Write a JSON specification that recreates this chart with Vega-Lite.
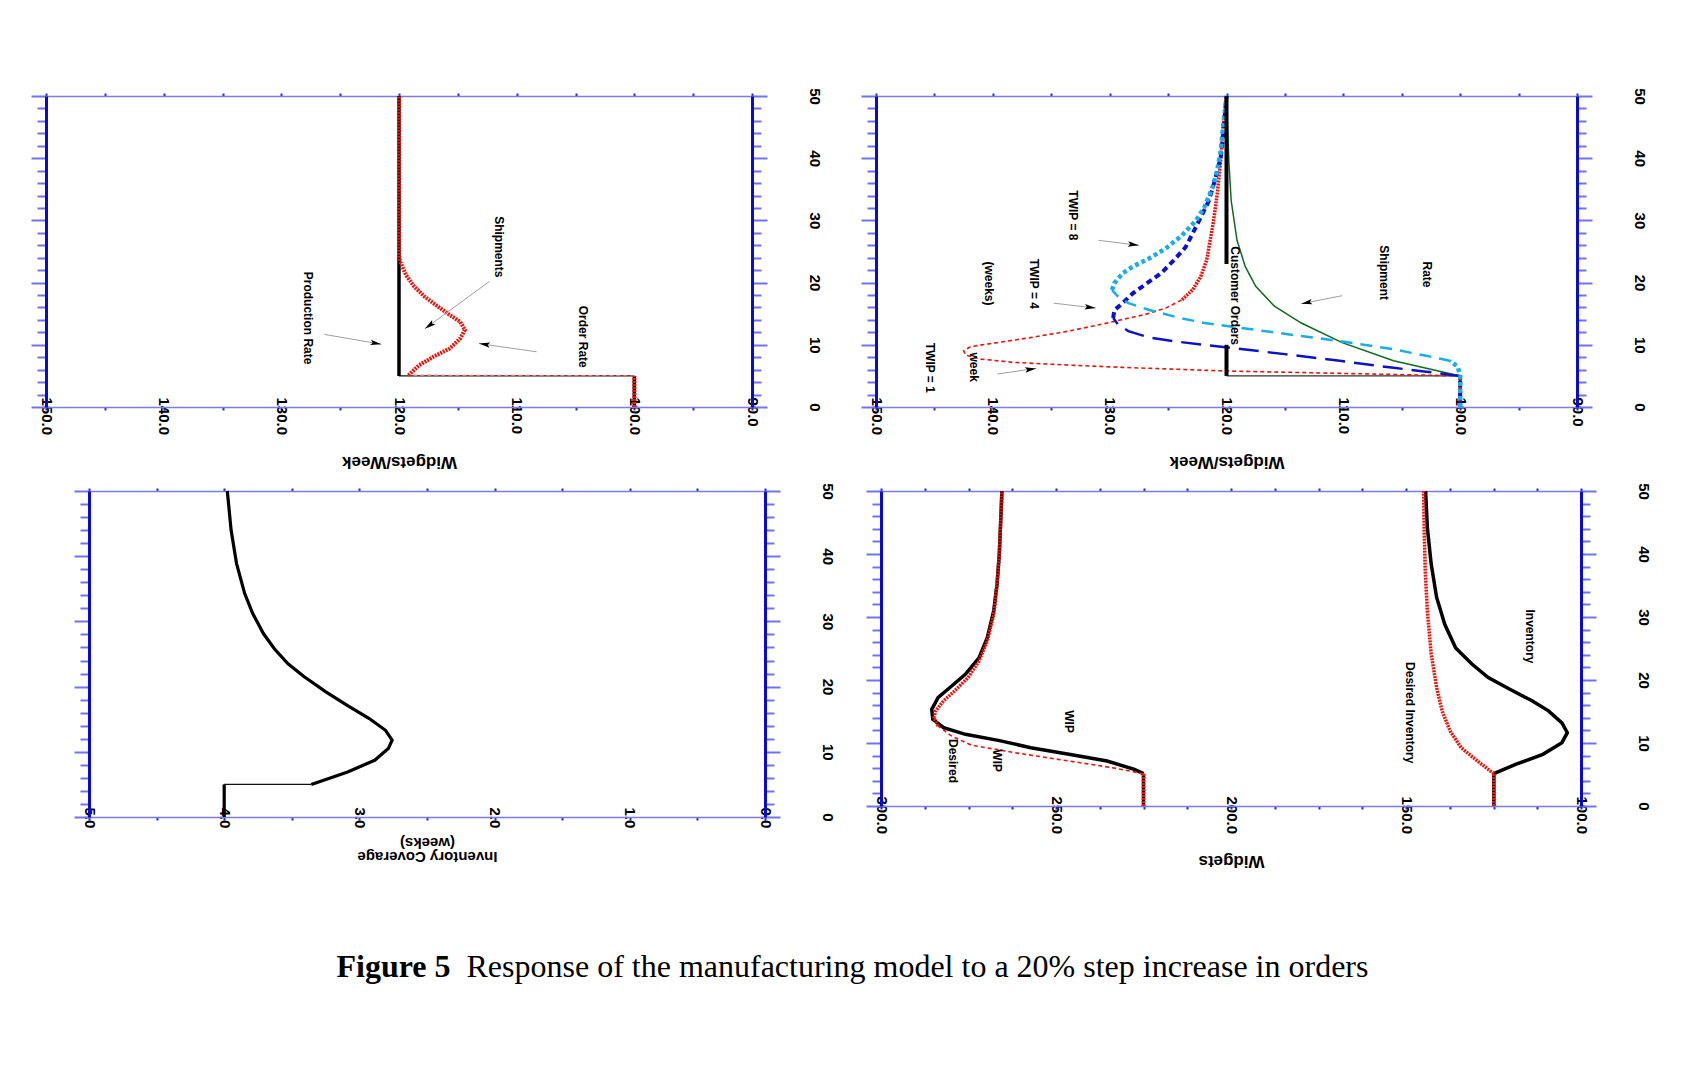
{
  "$schema": "https://vega.github.io/schema/vega-lite/v6.json",
  "background": "white",
  "padding": {"left": 5, "top": 86, "right": 5, "bottom": 5},
  "columns": 1,
  "spacing": 11,
  "config": {
    "view": {"stroke": null},
    "axis": {
      "grid": false, "labelOverlap": false, "labelFlush": false,
      "labelFont": "Liberation Sans", "labelFontWeight": "bold", "labelColor": "#000000",
      "titleFont": "Liberation Sans", "titleFontWeight": "bold", "titleColor": "#000000"
    },
    "axisTop": {"tickSize": 3, "tickWidth": 2, "tickColor": "#2424e0", "domainColor": "#7b7bef", "domainWidth": 1.5, "labels": false, "minExtent": 10, "maxExtent": 10},
    "axisBottom": {"tickSize": 3, "tickWidth": 2, "tickColor": "#2424e0", "domainColor": "#7b7bef", "domainWidth": 1.5,
      "labelAngle": 90, "labelAlign": "left", "labelBaseline": "middle", "labelPadding": -13, "labelFontSize": 15,
      "titleAngle": 180, "titleBaseline": "bottom", "titleFontSize": 17, "titlePadding": 5, "minExtent": 40, "maxExtent": 40},
    "axisLeft": {"tickWidth": 2, "tickColor": "#7272ee", "domainColor": "#0a0ad0", "domainWidth": 3, "labels": false, "minExtent": 15},
    "axisRight": {"tickWidth": 2, "tickColor": "#7272ee", "domainColor": "#0a0ad0", "domainWidth": 3,
      "labelAngle": 90, "labelAlign": "center", "labelBaseline": "middle", "labelPadding": 47, "labelFontSize": 15, "minExtent": 75}
  },
  "concat": [
    {
      "spacing": 33,
      "hconcat": [
        {
          "width": 706, "height": 311,
          "data": {"values": [
            {"s": "orders", "seg": "a", "v": 100, "t": 0}, {"s": "orders", "seg": "a", "v": 100, "t": 5},
            {"s": "orders", "seg": "b", "v": 100, "t": 5}, {"s": "orders", "seg": "b", "v": 120, "t": 5},
            {"s": "orders", "seg": "c", "v": 120, "t": 5}, {"s": "orders", "seg": "c", "v": 120, "t": 50},
            {"s": "prod", "seg": "a", "v": 100, "t": 0}, {"s": "prod", "seg": "a", "v": 100, "t": 5},
            {"s": "prod", "seg": "b", "v": 100, "t": 5}, {"s": "prod", "seg": "b", "v": 119.2, "t": 5.1},
            {"s": "prod", "seg": "c", "v": 119.2, "t": 5.1}, {"s": "prod", "seg": "c", "v": 118.3, "t": 6.7},
            {"s": "prod", "seg": "c", "v": 117.1, "t": 8.06}, {"s": "prod", "seg": "c", "v": 115.7, "t": 9.4},
            {"s": "prod", "seg": "c", "v": 114.8, "t": 11.0}, {"s": "prod", "seg": "c", "v": 114.4, "t": 12.4},
            {"s": "prod", "seg": "c", "v": 114.8, "t": 13.7}, {"s": "prod", "seg": "c", "v": 115.7, "t": 14.8},
            {"s": "prod", "seg": "c", "v": 116.65, "t": 16.1}, {"s": "prod", "seg": "c", "v": 117.8, "t": 17.7},
            {"s": "prod", "seg": "c", "v": 118.7, "t": 19.35}, {"s": "prod", "seg": "c", "v": 119.4, "t": 21.2},
            {"s": "prod", "seg": "c", "v": 119.9, "t": 23.4}, {"s": "prod", "seg": "c", "v": 120, "t": 24.5},
            {"s": "prod", "seg": "c", "v": 120, "t": 50}
          ]},
          "resolve": {"axis": {"x": "independent", "y": "independent"}},
          "encoding": {
            "x": {"field": "v", "type": "quantitative", "scale": {"domain": [90, 150], "reverse": true, "nice": false, "zero": false}, "axis": null},
            "y": {"field": "t", "type": "quantitative", "scale": {"domain": [0, 50], "nice": false, "zero": false}, "axis": null},
            "order": {"field": "t", "type": "quantitative"},
            "detail": {"field": "seg", "type": "nominal"}
          },
          "layer": [
            {
              "transform": [{"filter": "datum.s === 'orders' && datum.seg === 'a'"}],
              "mark": {"type": "line", "color": "#000000", "strokeWidth": 3.5},
              "encoding": {
                "x": {"field": "v", "type": "quantitative", "scale": {"domain": [90, 150], "reverse": true, "nice": false, "zero": false},
                  "axis": {"orient": "bottom", "title": "Widgets/Week", "values": [90, 95, 100, 105, 110, 115, 120, 125, 130, 135, 140, 145, 150],
                    "labelExpr": "datum.value % 10 === 0 ? format(datum.value, '.1f') : ''"}},
                "y": {"field": "t", "type": "quantitative", "scale": {"domain": [0, 50], "nice": false, "zero": false},
                  "axis": {"orient": "right", "title": null, "values": [0, 2, 4, 6, 8, 10, 12, 14, 16, 18, 20, 22, 24, 26, 28, 30, 32, 34, 36, 38, 40, 42, 44, 46, 48, 50],
                    "labelExpr": "datum.value % 10 === 0 ? datum.label : ''",
                    "tickSize": {"condition": {"test": "datum.value % 10 === 0", "value": 15}, "value": 9}}}
              }
            },
            {
              "transform": [{"filter": "datum.s === 'orders' && datum.seg === 'b'"}],
              "mark": {"type": "line", "color": "#111111", "strokeWidth": 1.2},
              "encoding": {
                "x": {"field": "v", "type": "quantitative", "scale": {"domain": [90, 150], "reverse": true, "nice": false, "zero": false},
                  "axis": {"orient": "top", "title": null, "values": [90, 95, 100, 105, 110, 115, 120, 125, 130, 135, 140, 145, 150]}},
                "y": {"field": "t", "type": "quantitative", "scale": {"domain": [0, 50], "nice": false, "zero": false},
                  "axis": {"orient": "left", "title": null, "minExtent": 40.5, "values": [0, 2, 4, 6, 8, 10, 12, 14, 16, 18, 20, 22, 24, 26, 28, 30, 32, 34, 36, 38, 40, 42, 44, 46, 48, 50],
                    "tickSize": {"condition": {"test": "datum.value % 10 === 0", "value": 15}, "value": 9}}}
              }
            },
            {
              "transform": [{"filter": "datum.s === 'orders' && datum.seg === 'c'"}],
              "mark": {"type": "line", "color": "#000000", "strokeWidth": 3.5}
            },
            {
              "transform": [{"filter": "datum.s === 'prod' && datum.seg === 'b'"}],
              "mark": {"type": "line", "color": "#f07070", "strokeWidth": 1.5, "strokeDash": [4, 3]}
            },
            {
              "transform": [{"filter": "datum.s === 'prod' && datum.seg !== 'b'"}],
              "mark": {"type": "line", "color": "#e8150e", "strokeWidth": 4, "strokeDash": [2, 1]}
            },
            {
              "data": {"values": [
                {"label": "Production Rate", "v": 127.7, "t": 14.3},
                {"label": "Shipments", "v": 111.5, "t": 25.75},
                {"label": "Order Rate", "v": 104.4, "t": 11.3}
              ]},
              "mark": {"type": "text", "angle": 90, "font": "Liberation Sans", "fontWeight": "bold", "fontSize": 12, "align": "center", "baseline": "middle", "color": "#000000"},
              "encoding": {"text": {"field": "label", "type": "nominal"}}
            },
            {
              "data": {"values": [
                {"id": "a1", "v1": 126.35, "t1": 11.67, "v2": 121.5, "t2": 10.1},
                {"id": "a2", "v1": 112.3, "t1": 20.2, "v2": 117.8, "t2": 12.6},
                {"id": "a3", "v1": 108.3, "t1": 8.87, "v2": 113.2, "t2": 10.2}
              ]},
              "layer": [
                {
                  "mark": {"type": "rule", "color": "#a0a0a0", "strokeWidth": 1},
                  "encoding": {
                    "x": {"field": "v1", "type": "quantitative", "scale": {"domain": [90, 150], "reverse": true, "nice": false, "zero": false}, "axis": null},
                    "x2": {"field": "v2"},
                    "y": {"field": "t1", "type": "quantitative", "scale": {"domain": [0, 50], "nice": false, "zero": false}, "axis": null},
                    "y2": {"field": "t2"}
                  }
                },
                {
                  "transform": [{"filter": "datum.id === 'a1'"}],
                  "mark": {"type": "point", "shape": "M0,0L0.5,2L0,1.6L-0.5,2Z", "filled": true, "color": "#000000", "opacity": 1, "size": 120, "angle": 99.6},
                  "encoding": {
                    "x": {"field": "v2", "type": "quantitative", "scale": {"domain": [90, 150], "reverse": true, "nice": false, "zero": false}, "axis": null},
                    "y": {"field": "t2", "type": "quantitative", "scale": {"domain": [0, 50], "nice": false, "zero": false}, "axis": null}
                  }
                },
                {
                  "transform": [{"filter": "datum.id === 'a2'"}],
                  "mark": {"type": "point", "shape": "M0,0L0.5,2L0,1.6L-0.5,2Z", "filled": true, "color": "#000000", "opacity": 1, "size": 120, "angle": 234.4},
                  "encoding": {
                    "x": {"field": "v2", "type": "quantitative", "scale": {"domain": [90, 150], "reverse": true, "nice": false, "zero": false}, "axis": null},
                    "y": {"field": "t2", "type": "quantitative", "scale": {"domain": [0, 50], "nice": false, "zero": false}, "axis": null}
                  }
                },
                {
                  "transform": [{"filter": "datum.id === 'a3'"}],
                  "mark": {"type": "point", "shape": "M0,0L0.5,2L0,1.6L-0.5,2Z", "filled": true, "color": "#000000", "opacity": 1, "size": 120, "angle": 278.3},
                  "encoding": {
                    "x": {"field": "v2", "type": "quantitative", "scale": {"domain": [90, 150], "reverse": true, "nice": false, "zero": false}, "axis": null},
                    "y": {"field": "t2", "type": "quantitative", "scale": {"domain": [0, 50], "nice": false, "zero": false}, "axis": null}
                  }
                }
              ]
            }
          ]
        },
        {
          "width": 701, "height": 311,
          "data": {"values": [
            {"s": "orders", "seg": "a", "v": 100, "t": 0}, {"s": "orders", "seg": "a", "v": 100, "t": 5},
            {"s": "orders", "seg": "b", "v": 100, "t": 5}, {"s": "orders", "seg": "b", "v": 120, "t": 5},
            {"s": "orders", "seg": "c", "v": 120, "t": 5}, {"s": "orders", "seg": "c", "v": 120, "t": 10},
            {"s": "orders", "seg": "d", "v": 120, "t": 23}, {"s": "orders", "seg": "d", "v": 120, "t": 50},
            {"s": "ship", "seg": "a", "v": 100, "t": 0}, {"s": "ship", "seg": "a", "v": 100, "t": 5},
            {"s": "ship", "seg": "c", "v": 100, "t": 5}, {"s": "ship", "seg": "c", "v": 105.7, "t": 7.43},
            {"s": "ship", "seg": "c", "v": 110.1, "t": 10.35}, {"s": "ship", "seg": "c", "v": 113.6, "t": 13.5},
            {"s": "ship", "seg": "c", "v": 115.9, "t": 16.2}, {"s": "ship", "seg": "c", "v": 117.5, "t": 19.4},
            {"s": "ship", "seg": "c", "v": 118.4, "t": 22.6}, {"s": "ship", "seg": "c", "v": 119.1, "t": 26.8},
            {"s": "ship", "seg": "c", "v": 119.6, "t": 33.2}, {"s": "ship", "seg": "c", "v": 119.8, "t": 39.5},
            {"s": "ship", "seg": "c", "v": 120, "t": 50},
            {"s": "s1", "seg": "a", "v": 100, "t": 0}, {"s": "s1", "seg": "a", "v": 100, "t": 5},
            {"s": "s1", "seg": "c1", "v": 100, "t": 5}, {"s": "s1", "seg": "c1", "v": 110.3, "t": 5.41},
            {"s": "s1", "seg": "c1", "v": 120.1, "t": 5.79}, {"s": "s1", "seg": "c1", "v": 128.9, "t": 6.37},
            {"s": "s1", "seg": "c1", "v": 133.5, "t": 6.74}, {"s": "s1", "seg": "c1", "v": 138.2, "t": 7.17},
            {"s": "s1", "seg": "c1", "v": 141.0, "t": 7.7}, {"s": "s1", "seg": "c1", "v": 142.3, "t": 8.33},
            {"s": "s1", "seg": "c1", "v": 142.5, "t": 9.02}, {"s": "s1", "seg": "c1", "v": 141.9, "t": 9.71},
            {"s": "s1", "seg": "c1", "v": 140.0, "t": 10.24}, {"s": "s1", "seg": "c1", "v": 136.8, "t": 11.15},
            {"s": "s1", "seg": "c1", "v": 133.5, "t": 12.2}, {"s": "s1", "seg": "c1", "v": 130.7, "t": 13.3},
            {"s": "s1", "seg": "c1", "v": 128.9, "t": 14.07}, {"s": "s1", "seg": "c1", "v": 127.0, "t": 14.86},
            {"s": "s1", "seg": "c1", "v": 125.2, "t": 15.9}, {"s": "s1", "seg": "c1", "v": 123.8, "t": 17.25},
            {"s": "s1", "seg": "c2", "v": 123.8, "t": 17.25}, {"s": "s1", "seg": "c2", "v": 122.9, "t": 18.84},
            {"s": "s1", "seg": "c2", "v": 122.2, "t": 20.97}, {"s": "s1", "seg": "c2", "v": 121.7, "t": 23.6},
            {"s": "s1", "seg": "c2", "v": 121.4, "t": 26.8}, {"s": "s1", "seg": "c2", "v": 121.1, "t": 30.0},
            {"s": "s1", "seg": "c2", "v": 120.8, "t": 34.2}, {"s": "s1", "seg": "c2", "v": 120.5, "t": 39.5},
            {"s": "s1", "seg": "c2", "v": 120.3, "t": 44.85}, {"s": "s1", "seg": "c2", "v": 120, "t": 50},
            {"s": "s2", "seg": "a", "v": 100, "t": 0}, {"s": "s2", "seg": "a", "v": 100, "t": 5},
            {"s": "s2", "seg": "c1", "v": 100, "t": 5}, {"s": "s2", "seg": "c1", "v": 102.9, "t": 5.68},
            {"s": "s2", "seg": "c1", "v": 105.7, "t": 6.3}, {"s": "s2", "seg": "c1", "v": 110.3, "t": 7.43},
            {"s": "s2", "seg": "c1", "v": 115.0, "t": 8.5}, {"s": "s2", "seg": "c1", "v": 119.6, "t": 9.5},
            {"s": "s2", "seg": "c1", "v": 124.2, "t": 10.5}, {"s": "s2", "seg": "c1", "v": 126.6, "t": 11.15},
            {"s": "s2", "seg": "c1", "v": 128.4, "t": 12.2}, {"s": "s2", "seg": "c1", "v": 129.3, "t": 13.3},
            {"s": "s2", "seg": "c1", "v": 129.7, "t": 14.3},
            {"s": "s2", "seg": "c2", "v": 129.7, "t": 14.3}, {"s": "s2", "seg": "c2", "v": 129.6, "t": 15.55},
            {"s": "s2", "seg": "c2", "v": 128.9, "t": 16.7}, {"s": "s2", "seg": "c2", "v": 128.0, "t": 18.3},
            {"s": "s2", "seg": "c2", "v": 126.8, "t": 19.9}, {"s": "s2", "seg": "c2", "v": 125.6, "t": 21.5},
            {"s": "s2", "seg": "c2", "v": 124.5, "t": 23.6}, {"s": "s2", "seg": "c2", "v": 123.5, "t": 25.7},
            {"s": "s2", "seg": "c2", "v": 122.9, "t": 27.9}, {"s": "s2", "seg": "c2", "v": 122.2, "t": 30.5},
            {"s": "s2", "seg": "c2", "v": 121.5, "t": 33.2}, {"s": "s2", "seg": "c2", "v": 121.0, "t": 36.4},
            {"s": "s2", "seg": "c2", "v": 120.5, "t": 40.1}, {"s": "s2", "seg": "c2", "v": 120.3, "t": 43.3},
            {"s": "s2", "seg": "c2", "v": 120, "t": 50},
            {"s": "s3", "seg": "a", "v": 100, "t": 0}, {"s": "s3", "seg": "a", "v": 100, "t": 5},
            {"s": "s3", "seg": "a", "v": 100.2, "t": 6.4}, {"s": "s3", "seg": "a", "v": 100.8, "t": 7.4},
            {"s": "s3", "seg": "c1", "v": 100.8, "t": 7.4}, {"s": "s3", "seg": "c1", "v": 102.9, "t": 8.23},
            {"s": "s3", "seg": "c1", "v": 105.7, "t": 9.29}, {"s": "s3", "seg": "c1", "v": 110.3, "t": 10.6},
            {"s": "s3", "seg": "c1", "v": 113.6, "t": 11.4}, {"s": "s3", "seg": "c1", "v": 117.5, "t": 12.4},
            {"s": "s3", "seg": "c1", "v": 121.9, "t": 13.5}, {"s": "s3", "seg": "c1", "v": 124.2, "t": 14.4},
            {"s": "s3", "seg": "c1", "v": 126.6, "t": 15.6}, {"s": "s3", "seg": "c1", "v": 128.4, "t": 16.7},
            {"s": "s3", "seg": "c1", "v": 129.3, "t": 17.8}, {"s": "s3", "seg": "c1", "v": 129.8, "t": 18.8},
            {"s": "s3", "seg": "c2", "v": 129.8, "t": 18.8}, {"s": "s3", "seg": "c2", "v": 129.6, "t": 19.9},
            {"s": "s3", "seg": "c2", "v": 128.9, "t": 21.5}, {"s": "s3", "seg": "c2", "v": 128.0, "t": 22.6},
            {"s": "s3", "seg": "c2", "v": 126.6, "t": 23.9}, {"s": "s3", "seg": "c2", "v": 125.2, "t": 25.5},
            {"s": "s3", "seg": "c2", "v": 123.8, "t": 27.6}, {"s": "s3", "seg": "c2", "v": 122.6, "t": 30.0},
            {"s": "s3", "seg": "c2", "v": 121.9, "t": 32.1}, {"s": "s3", "seg": "c2", "v": 121.2, "t": 35.3},
            {"s": "s3", "seg": "c2", "v": 120.8, "t": 38.0}, {"s": "s3", "seg": "c2", "v": 120.5, "t": 41.1},
            {"s": "s3", "seg": "c2", "v": 120.3, "t": 44.9}, {"s": "s3", "seg": "c2", "v": 120, "t": 50}
          ]},
          "resolve": {"axis": {"x": "independent", "y": "independent"}},
          "encoding": {
            "x": {"field": "v", "type": "quantitative", "scale": {"domain": [90, 150], "reverse": true, "nice": false, "zero": false}, "axis": null},
            "y": {"field": "t", "type": "quantitative", "scale": {"domain": [0, 50], "nice": false, "zero": false}, "axis": null},
            "order": {"field": "t", "type": "quantitative"},
            "detail": {"field": "seg", "type": "nominal"}
          },
          "layer": [
            {
              "transform": [{"filter": "datum.s === 'orders' && datum.seg === 'a'"}],
              "mark": {"type": "line", "color": "#000000", "strokeWidth": 3},
              "encoding": {
                "x": {"field": "v", "type": "quantitative", "scale": {"domain": [90, 150], "reverse": true, "nice": false, "zero": false},
                  "axis": {"orient": "bottom", "title": "Widgets/Week", "values": [90, 95, 100, 105, 110, 115, 120, 125, 130, 135, 140, 145, 150],
                    "labelExpr": "datum.value % 10 === 0 ? format(datum.value, '.1f') : ''"}},
                "y": {"field": "t", "type": "quantitative", "scale": {"domain": [0, 50], "nice": false, "zero": false},
                  "axis": {"orient": "right", "title": null, "values": [0, 2, 4, 6, 8, 10, 12, 14, 16, 18, 20, 22, 24, 26, 28, 30, 32, 34, 36, 38, 40, 42, 44, 46, 48, 50],
                    "labelExpr": "datum.value % 10 === 0 ? datum.label : ''",
                    "tickSize": {"condition": {"test": "datum.value % 10 === 0", "value": 15}, "value": 9}}}
              }
            },
            {
              "transform": [{"filter": "datum.s === 'orders' && datum.seg === 'b'"}],
              "mark": {"type": "line", "color": "#333333", "strokeWidth": 1.2},
              "encoding": {
                "x": {"field": "v", "type": "quantitative", "scale": {"domain": [90, 150], "reverse": true, "nice": false, "zero": false},
                  "axis": {"orient": "top", "title": null, "values": [90, 95, 100, 105, 110, 115, 120, 125, 130, 135, 140, 145, 150]}},
                "y": {"field": "t", "type": "quantitative", "scale": {"domain": [0, 50], "nice": false, "zero": false},
                  "axis": {"orient": "left", "title": null, "values": [0, 2, 4, 6, 8, 10, 12, 14, 16, 18, 20, 22, 24, 26, 28, 30, 32, 34, 36, 38, 40, 42, 44, 46, 48, 50],
                    "tickSize": {"condition": {"test": "datum.value % 10 === 0", "value": 15}, "value": 9}}}
              }
            },
            {
              "transform": [{"filter": "datum.s === 'ship'"}],
              "mark": {"type": "line", "color": "#0f6a1e", "strokeWidth": 1.5}
            },
            {
              "transform": [{"filter": "datum.s === 's1' && datum.seg === 'c1'"}],
              "mark": {"type": "line", "color": "#e8150e", "strokeWidth": 1.6, "strokeDash": [4, 3]}
            },
            {
              "transform": [{"filter": "datum.s === 's1' && datum.seg !== 'c1'"}],
              "mark": {"type": "line", "color": "#e8150e", "strokeWidth": 3.5, "strokeDash": [2, 1]}
            },
            {
              "transform": [{"filter": "datum.s === 's2' && datum.seg === 'c1'"}],
              "mark": {"type": "line", "color": "#0b12c9", "strokeWidth": 2.5, "strokeDash": [20, 9]}
            },
            {
              "transform": [{"filter": "datum.s === 's2' && datum.seg !== 'c1'"}],
              "mark": {"type": "line", "color": "#0b12c9", "strokeWidth": 4, "strokeDash": [6, 4]}
            },
            {
              "transform": [{"filter": "datum.s === 's3' && datum.seg === 'c1'"}],
              "mark": {"type": "line", "color": "#1badea", "strokeWidth": 2.5, "strokeDash": [12, 8]}
            },
            {
              "transform": [{"filter": "datum.s === 's3' && datum.seg !== 'c1'"}],
              "mark": {"type": "line", "color": "#1badea", "strokeWidth": 4.5, "strokeDash": [4, 3]}
            },
            {
              "transform": [{"filter": "datum.s === 'orders' && (datum.seg === 'c' || datum.seg === 'd')"}],
              "mark": {"type": "line", "color": "#000000", "strokeWidth": 4}
            },
            {
              "data": {"values": [
                {"label": "TWIP = 8", "v": 133.1, "t": 30.8},
                {"label": "(weeks)", "v": 140.3, "t": 19.85},
                {"label": "TWIP = 4", "v": 136.5, "t": 19.8},
                {"label": "TWIP = 1", "v": 145.4, "t": 6.3},
                {"label": "week", "v": 141.6, "t": 6.4},
                {"label": "Customer Orders", "v": 119.3, "t": 17.9},
                {"label": "Shipment", "v": 106.5, "t": 21.6},
                {"label": "Rate", "v": 102.8, "t": 21.3}
              ]},
              "mark": {"type": "text", "angle": 90, "font": "Liberation Sans", "fontWeight": "bold", "fontSize": 12, "align": "center", "baseline": "middle", "color": "#000000"},
              "encoding": {"text": {"field": "label", "type": "nominal"}}
            },
            {
              "data": {"values": [
                {"id": "b1", "v1": 130.97, "t1": 26.8, "v2": 127.5, "t2": 26.0},
                {"id": "b2", "v1": 134.8, "t1": 16.7, "v2": 131.2, "t2": 15.9},
                {"id": "b3", "v1": 139.6, "t1": 5.3, "v2": 136.3, "t2": 6.2},
                {"id": "b4", "v1": 110.1, "t1": 17.9, "v2": 113.6, "t2": 16.6}
              ]},
              "layer": [
                {
                  "mark": {"type": "rule", "color": "#a0a0a0", "strokeWidth": 1},
                  "encoding": {
                    "x": {"field": "v1", "type": "quantitative", "scale": {"domain": [90, 150], "reverse": true, "nice": false, "zero": false}, "axis": null},
                    "x2": {"field": "v2"},
                    "y": {"field": "t1", "type": "quantitative", "scale": {"domain": [0, 50], "nice": false, "zero": false}, "axis": null},
                    "y2": {"field": "t2"}
                  }
                },
                {
                  "transform": [{"filter": "datum.id === 'b1' || datum.id === 'b2'"}],
                  "mark": {"type": "point", "shape": "M0,0L0.5,2L0,1.6L-0.5,2Z", "filled": true, "color": "#000000", "opacity": 1, "size": 120, "angle": 97},
                  "encoding": {
                    "x": {"field": "v2", "type": "quantitative", "scale": {"domain": [90, 150], "reverse": true, "nice": false, "zero": false}, "axis": null},
                    "y": {"field": "t2", "type": "quantitative", "scale": {"domain": [0, 50], "nice": false, "zero": false}, "axis": null}
                  }
                },
                {
                  "transform": [{"filter": "datum.id === 'b3'"}],
                  "mark": {"type": "point", "shape": "M0,0L0.5,2L0,1.6L-0.5,2Z", "filled": true, "color": "#000000", "opacity": 1, "size": 120, "angle": 81.5},
                  "encoding": {
                    "x": {"field": "v2", "type": "quantitative", "scale": {"domain": [90, 150], "reverse": true, "nice": false, "zero": false}, "axis": null},
                    "y": {"field": "t2", "type": "quantitative", "scale": {"domain": [0, 50], "nice": false, "zero": false}, "axis": null}
                  }
                },
                {
                  "transform": [{"filter": "datum.id === 'b4'"}],
                  "mark": {"type": "point", "shape": "M0,0L0.5,2L0,1.6L-0.5,2Z", "filled": true, "color": "#000000", "opacity": 1, "size": 120, "angle": 259},
                  "encoding": {
                    "x": {"field": "v2", "type": "quantitative", "scale": {"domain": [90, 150], "reverse": true, "nice": false, "zero": false}, "axis": null},
                    "y": {"field": "t2", "type": "quantitative", "scale": {"domain": [0, 50], "nice": false, "zero": false}, "axis": null}
                  }
                }
              ]
            }
          ]
        }
      ]
    },
    {
      "spacing": 25,
      "hconcat": [
        {
          "width": 1.3, "height": 1,
          "data": {"values": []},
          "mark": {"type": "point", "opacity": 0},
          "encoding": {}
        },
        {
          "width": 676, "height": 326,
          "data": {"values": [
            {"s": "cov", "seg": "a", "v": 4, "t": 0}, {"s": "cov", "seg": "a", "v": 4, "t": 5},
            {"s": "cov", "seg": "b", "v": 4, "t": 5}, {"s": "cov", "seg": "b", "v": 3.356, "t": 5},
            {"s": "cov", "seg": "c", "v": 3.356, "t": 5}, {"s": "cov", "seg": "c", "v": 3.087, "t": 6.9},
            {"s": "cov", "seg": "c", "v": 2.887, "t": 8.7}, {"s": "cov", "seg": "c", "v": 2.786, "t": 10.5},
            {"s": "cov", "seg": "c", "v": 2.758, "t": 11.8}, {"s": "cov", "seg": "c", "v": 2.807, "t": 13.3},
            {"s": "cov", "seg": "c", "v": 2.927, "t": 15.1}, {"s": "cov", "seg": "c", "v": 3.087, "t": 17.1},
            {"s": "cov", "seg": "c", "v": 3.248, "t": 19.2}, {"s": "cov", "seg": "c", "v": 3.408, "t": 21.5},
            {"s": "cov", "seg": "c", "v": 3.528, "t": 23.5}, {"s": "cov", "seg": "c", "v": 3.629, "t": 25.8},
            {"s": "cov", "seg": "c", "v": 3.709, "t": 28.1}, {"s": "cov", "seg": "c", "v": 3.789, "t": 31.2},
            {"s": "cov", "seg": "c", "v": 3.849, "t": 34.3}, {"s": "cov", "seg": "c", "v": 3.909, "t": 38.9},
            {"s": "cov", "seg": "c", "v": 3.949, "t": 44.0}, {"s": "cov", "seg": "c", "v": 3.977, "t": 50}
          ]},
          "resolve": {"axis": {"x": "independent", "y": "independent"}},
          "encoding": {
            "x": {"field": "v", "type": "quantitative", "scale": {"domain": [0, 5], "reverse": true, "nice": false, "zero": false}, "axis": null},
            "y": {"field": "t", "type": "quantitative", "scale": {"domain": [0, 50], "nice": false, "zero": false}, "axis": null},
            "order": {"field": "t", "type": "quantitative"},
            "detail": {"field": "seg", "type": "nominal"}
          },
          "layer": [
            {
              "transform": [{"filter": "datum.seg !== 'b'"}],
              "mark": {"type": "line", "color": "#000000", "strokeWidth": 3.2},
              "encoding": {
                "x": {"field": "v", "type": "quantitative", "scale": {"domain": [0, 5], "reverse": true, "nice": false, "zero": false},
                  "axis": {"orient": "bottom", "title": ["Inventory Coverage", "(weeks)"], "titleFontSize": 15, "titleLineHeight": 14, "titlePadding": 17,
                    "minExtent": 14, "maxExtent": 14, "values": [0, 0.5, 1, 1.5, 2, 2.5, 3, 3.5, 4, 4.5, 5],
                    "labelExpr": "datum.value % 1 === 0 ? format(datum.value, '.1f') : ''"}},
                "y": {"field": "t", "type": "quantitative", "scale": {"domain": [0, 50], "nice": false, "zero": false},
                  "axis": {"orient": "right", "title": null, "values": [0, 2, 4, 6, 8, 10, 12, 14, 16, 18, 20, 22, 24, 26, 28, 30, 32, 34, 36, 38, 40, 42, 44, 46, 48, 50],
                    "labelExpr": "datum.value % 10 === 0 ? datum.label : ''",
                    "tickSize": {"condition": {"test": "datum.value % 10 === 0", "value": 15}, "value": 9}}}
              }
            },
            {
              "transform": [{"filter": "datum.seg === 'b'"}],
              "mark": {"type": "line", "color": "#111111", "strokeWidth": 1.2},
              "encoding": {
                "x": {"field": "v", "type": "quantitative", "scale": {"domain": [0, 5], "reverse": true, "nice": false, "zero": false},
                  "axis": {"orient": "top", "title": null, "values": [0, 0.5, 1, 1.5, 2, 2.5, 3, 3.5, 4, 4.5, 5]}},
                "y": {"field": "t", "type": "quantitative", "scale": {"domain": [0, 50], "nice": false, "zero": false},
                  "axis": {"orient": "left", "title": null, "values": [0, 2, 4, 6, 8, 10, 12, 14, 16, 18, 20, 22, 24, 26, 28, 30, 32, 34, 36, 38, 40, 42, 44, 46, 48, 50],
                    "tickSize": {"condition": {"test": "datum.value % 10 === 0", "value": 15}, "value": 9}}}
              }
            }
          ]
        },
        {
          "width": 700, "height": 315,
          "data": {"values": [
            {"s": "wip", "seg": "a", "v": 225, "t": 0}, {"s": "wip", "seg": "a", "v": 225, "t": 5.13},
            {"s": "wip", "seg": "c", "v": 225, "t": 5.13}, {"s": "wip", "seg": "c", "v": 227.6, "t": 5.82},
            {"s": "wip", "seg": "c", "v": 235.4, "t": 7.14}, {"s": "wip", "seg": "c", "v": 246.3, "t": 8.2},
            {"s": "wip", "seg": "c", "v": 257.2, "t": 9.26}, {"s": "wip", "seg": "c", "v": 266.5, "t": 10.42},
            {"s": "wip", "seg": "c", "v": 275.9, "t": 11.38}, {"s": "wip", "seg": "c", "v": 282.1, "t": 12.43},
            {"s": "wip", "seg": "c", "v": 285.2, "t": 13.76}, {"s": "wip", "seg": "c", "v": 285.5, "t": 15.34},
            {"s": "wip", "seg": "c", "v": 283.7, "t": 17.2}, {"s": "wip", "seg": "c", "v": 279.8, "t": 19.05},
            {"s": "wip", "seg": "c", "v": 275.9, "t": 20.9}, {"s": "wip", "seg": "c", "v": 272.0, "t": 23.5},
            {"s": "wip", "seg": "c", "v": 269.65, "t": 26.7}, {"s": "wip", "seg": "c", "v": 267.8, "t": 30.95},
            {"s": "wip", "seg": "c", "v": 266.85, "t": 35.2}, {"s": "wip", "seg": "c", "v": 266.2, "t": 39.95},
            {"s": "wip", "seg": "c", "v": 265.8, "t": 45.2}, {"s": "wip", "seg": "c", "v": 265.45, "t": 50},
            {"s": "dwip", "seg": "a", "v": 225, "t": 0}, {"s": "dwip", "seg": "a", "v": 225, "t": 5.13},
            {"s": "dwip", "seg": "c1", "v": 225, "t": 5.13}, {"s": "dwip", "seg": "c1", "v": 233.9, "t": 6.08},
            {"s": "dwip", "seg": "c1", "v": 246.3, "t": 7.14}, {"s": "dwip", "seg": "c1", "v": 261.9, "t": 8.47},
            {"s": "dwip", "seg": "c1", "v": 274.3, "t": 9.68}, {"s": "dwip", "seg": "c1", "v": 279.8, "t": 11.1},
            {"s": "dwip", "seg": "c1", "v": 283.7, "t": 12.7},
            {"s": "dwip", "seg": "c2", "v": 283.7, "t": 12.7}, {"s": "dwip", "seg": "c2", "v": 284.9, "t": 14.0},
            {"s": "dwip", "seg": "c2", "v": 284.4, "t": 15.1}, {"s": "dwip", "seg": "c2", "v": 282.1, "t": 16.7},
            {"s": "dwip", "seg": "c2", "v": 279.0, "t": 18.25}, {"s": "dwip", "seg": "c2", "v": 275.1, "t": 20.4},
            {"s": "dwip", "seg": "c2", "v": 272.0, "t": 23.0}, {"s": "dwip", "seg": "c2", "v": 269.65, "t": 26.2},
            {"s": "dwip", "seg": "c2", "v": 267.8, "t": 30.4}, {"s": "dwip", "seg": "c2", "v": 266.85, "t": 35.2},
            {"s": "dwip", "seg": "c2", "v": 266.2, "t": 39.95}, {"s": "dwip", "seg": "c2", "v": 265.8, "t": 45.2},
            {"s": "dwip", "seg": "c2", "v": 265.45, "t": 50},
            {"s": "inv", "seg": "a", "v": 124.9, "t": 0}, {"s": "inv", "seg": "a", "v": 124.9, "t": 5.13},
            {"s": "inv", "seg": "c", "v": 124.9, "t": 5.13}, {"s": "inv", "seg": "c", "v": 118.7, "t": 6.6},
            {"s": "inv", "seg": "c", "v": 110.9, "t": 8.2}, {"s": "inv", "seg": "c", "v": 105.45, "t": 10.05},
            {"s": "inv", "seg": "c", "v": 103.9, "t": 11.64}, {"s": "inv", "seg": "c", "v": 105.45, "t": 13.2},
            {"s": "inv", "seg": "c", "v": 109.3, "t": 15.1}, {"s": "inv", "seg": "c", "v": 114.0, "t": 16.7},
            {"s": "inv", "seg": "c", "v": 120.2, "t": 18.5}, {"s": "inv", "seg": "c", "v": 126.5, "t": 20.4},
            {"s": "inv", "seg": "c", "v": 131.1, "t": 22.5}, {"s": "inv", "seg": "c", "v": 135.8, "t": 25.1},
            {"s": "inv", "seg": "c", "v": 138.9, "t": 28.8}, {"s": "inv", "seg": "c", "v": 141.25, "t": 33.1},
            {"s": "inv", "seg": "c", "v": 142.8, "t": 38.4}, {"s": "inv", "seg": "c", "v": 143.9, "t": 44.2},
            {"s": "inv", "seg": "c", "v": 144.4, "t": 50},
            {"s": "dinv", "seg": "a", "v": 124.9, "t": 0}, {"s": "dinv", "seg": "a", "v": 124.9, "t": 5.13},
            {"s": "dinv", "seg": "c2", "v": 124.9, "t": 5.13}, {"s": "dinv", "seg": "c2", "v": 129.6, "t": 7.14},
            {"s": "dinv", "seg": "c2", "v": 134.25, "t": 9.26}, {"s": "dinv", "seg": "c2", "v": 137.4, "t": 11.9},
            {"s": "dinv", "seg": "c2", "v": 139.7, "t": 15.1}, {"s": "dinv", "seg": "c2", "v": 141.25, "t": 18.8},
            {"s": "dinv", "seg": "c2", "v": 142.8, "t": 24.1}, {"s": "dinv", "seg": "c2", "v": 143.9, "t": 30.95},
            {"s": "dinv", "seg": "c2", "v": 144.5, "t": 37.3}, {"s": "dinv", "seg": "c2", "v": 144.8, "t": 43.65},
            {"s": "dinv", "seg": "c2", "v": 144.98, "t": 50}
          ]},
          "resolve": {"axis": {"x": "independent", "y": "independent"}},
          "encoding": {
            "x": {"field": "v", "type": "quantitative", "scale": {"domain": [100, 300], "reverse": true, "nice": false, "zero": false}, "axis": null},
            "y": {"field": "t", "type": "quantitative", "scale": {"domain": [0, 50], "nice": false, "zero": false}, "axis": null},
            "order": {"field": "t", "type": "quantitative"},
            "detail": {"field": "seg", "type": "nominal"}
          },
          "layer": [
            {
              "transform": [{"filter": "datum.s === 'wip'"}],
              "mark": {"type": "line", "color": "#000000", "strokeWidth": 3.5},
              "encoding": {
                "x": {"field": "v", "type": "quantitative", "scale": {"domain": [100, 300], "reverse": true, "nice": false, "zero": false},
                  "axis": {"orient": "bottom", "title": "Widgets", "values": [100, 112.5, 125, 137.5, 150, 162.5, 175, 187.5, 200, 212.5, 225, 237.5, 250, 262.5, 275, 287.5, 300],
                    "labelExpr": "datum.value % 50 === 0 ? format(datum.value, '.1f') : ''"}},
                "y": {"field": "t", "type": "quantitative", "scale": {"domain": [0, 50], "nice": false, "zero": false},
                  "axis": {"orient": "right", "title": null, "values": [0, 2, 4, 6, 8, 10, 12, 14, 16, 18, 20, 22, 24, 26, 28, 30, 32, 34, 36, 38, 40, 42, 44, 46, 48, 50],
                    "labelExpr": "datum.value % 10 === 0 ? datum.label : ''",
                    "tickSize": {"condition": {"test": "datum.value % 10 === 0", "value": 15}, "value": 9}}}
              }
            },
            {
              "transform": [{"filter": "datum.s === 'inv'"}],
              "mark": {"type": "line", "color": "#000000", "strokeWidth": 3.5},
              "encoding": {
                "x": {"field": "v", "type": "quantitative", "scale": {"domain": [100, 300], "reverse": true, "nice": false, "zero": false},
                  "axis": {"orient": "top", "title": null, "values": [100, 112.5, 125, 137.5, 150, 162.5, 175, 187.5, 200, 212.5, 225, 237.5, 250, 262.5, 275, 287.5, 300]}},
                "y": {"field": "t", "type": "quantitative", "scale": {"domain": [0, 50], "nice": false, "zero": false},
                  "axis": {"orient": "left", "title": null, "values": [0, 2, 4, 6, 8, 10, 12, 14, 16, 18, 20, 22, 24, 26, 28, 30, 32, 34, 36, 38, 40, 42, 44, 46, 48, 50],
                    "tickSize": {"condition": {"test": "datum.value % 10 === 0", "value": 15}, "value": 9}}}
              }
            },
            {
              "transform": [{"filter": "datum.s === 'dwip' && datum.seg === 'c1'"}],
              "mark": {"type": "line", "color": "#e8150e", "strokeWidth": 1.6, "strokeDash": [4, 3]}
            },
            {
              "transform": [{"filter": "(datum.s === 'dwip' || datum.s === 'dinv') && datum.seg === 'c2'"}],
              "mark": {"type": "line", "color": "#e8150e", "strokeWidth": 3.5, "strokeDash": [2, 1]},
              "encoding": {"detail": {"field": "s", "type": "nominal"}}
            },
            {
              "transform": [{"filter": "datum.s === 'dwip' && datum.seg === 'a'"}],
              "mark": {"type": "line", "color": "#e8150e", "strokeWidth": 3.5, "strokeDash": [2, 1]}
            },
            {
              "transform": [{"filter": "datum.s === 'dinv' && datum.seg === 'a'"}],
              "mark": {"type": "line", "color": "#e8150e", "strokeWidth": 3.5, "strokeDash": [2, 1]}
            },
            {
              "data": {"values": [
                {"label": "WIP", "v": 246.3, "t": 13.4},
                {"label": "Desired", "v": 279.3, "t": 7.14},
                {"label": "WIP", "v": 266.85, "t": 7.2},
                {"label": "Desired Inventory", "v": 149.0, "t": 14.8},
                {"label": "Inventory", "v": 114.5, "t": 26.9}
              ]},
              "mark": {"type": "text", "angle": 90, "font": "Liberation Sans", "fontWeight": "bold", "fontSize": 12, "align": "center", "baseline": "middle", "color": "#000000"},
              "encoding": {"text": {"field": "label", "type": "nominal"}}
            }
          ]
        }
      ]
    },
    {
      "width": 1600, "height": 173,
      "data": {"values": [
        {"k": "fig", "txt": "Figure 5"},
        {"k": "desc", "txt": "Response of the manufacturing model to a 20% step increase in orders"}
      ]},
      "encoding": {
        "x": {"field": "k", "type": "nominal", "scale": {"type": "point", "domain": ["fig", "desc"], "range": [290.5, 420.5], "padding": 0}, "axis": null},
        "text": {"field": "txt", "type": "nominal"}
      },
      "layer": [
        {
          "transform": [{"filter": "datum.k === 'fig'"}],
          "mark": {"type": "text", "font": "Liberation Serif", "fontSize": 32, "fontWeight": "bold", "align": "left", "baseline": "middle", "color": "#000000"}
        },
        {
          "transform": [{"filter": "datum.k === 'desc'"}],
          "mark": {"type": "text", "font": "Liberation Serif", "fontSize": 32, "fontWeight": "normal", "align": "left", "baseline": "middle", "color": "#000000"}
        }
      ]
    }
  ]
}
